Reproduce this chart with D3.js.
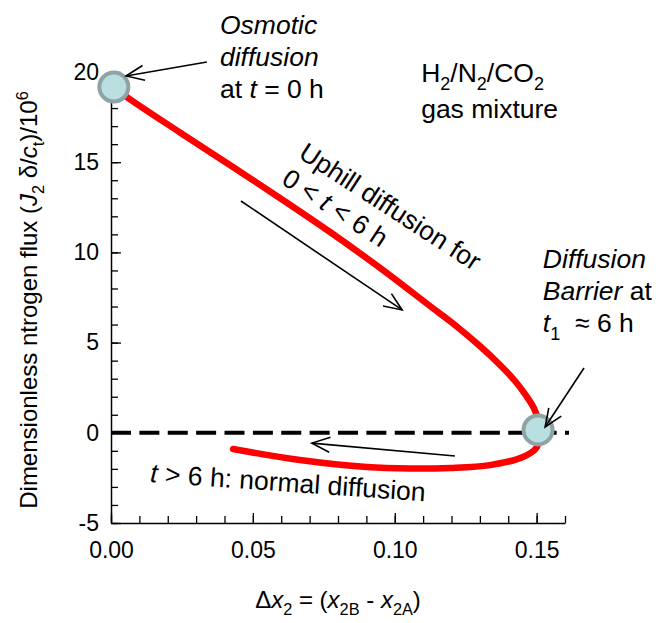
<!DOCTYPE html>
<html>
<head>
<meta charset="utf-8">
<script src="https://cdn.jsdelivr.net/npm/d3@7"></script>
<style>
    body { margin: 0; background: #fff; }
    text { font-family: "Liberation Sans", Arial, sans-serif; fill: #000; }
</style>
</head>
<body>
<div id="chart"></div>
<script>
// upper branch: 0 < t < 6 h (uphill), then t > 6 h (normal)
const fluxX = [0.001, 0.0056, 0.0243, 0.0419, 0.0595, 0.0772, 0.0948, 0.1124, 0.1212, 0.1300, 0.1371, 0.1424, 0.1466, 0.1490, 0.1505, 0.1508,
    0.1501, 0.1452, 0.1336, 0.1195, 0.1054, 0.0902, 0.0666, 0.043];
const fluxY = [19.17, 18.61, 16.65, 14.84, 13.02, 11.13, 9.14, 7.03, 5.98, 4.81, 3.76, 2.87, 1.99, 1.38, 0.72, 0.16,
    -0.79, -1.34, -1.79, -1.95, -1.98, -1.90, -1.51, -0.90];

// the two marked states
const markerX = [0.001, 0.1505];
const markerY = [19.17, 0.16];

const xTicks = [0, 0.05, 0.10, 0.15];
const xTickLabels = ["0.00", "0.05", "0.10", "0.15"];
const yTicks = [-5, 0, 5, 10, 15, 20];
const yTickLabels = ["-5", "0", "5", "10", "15", "20"];

let margin = { top: 72, right: 94, bottom: 100, left: 111 },
    width = 659 - margin.left - margin.right,
    height = 623 - margin.top - margin.bottom;

var x = d3.scaleLinear().domain([0, 0.16]).range([0, width]);
var y = d3.scaleLinear().domain([-5, 20]).range([height, 0]);

var svg = d3.select("#chart").append("svg")
    .attr("width", 659)
    .attr("height", 623);

var defs = svg.append("defs");
defs.append("marker")
    .attr("id", "open")
    .attr("markerUnits", "userSpaceOnUse")
    .attr("viewBox", "-20 -10 22 20")
    .attr("refX", 0).attr("refY", 0)
    .attr("markerWidth", 22).attr("markerHeight", 20)
    .attr("orient", "auto")
    .append("path")
    .attr("d", "M-18,-7.5L0,0L-18,7.5")
    .attr("fill", "none")
    .attr("stroke", "#000")
    .attr("stroke-width", 1.6);

var chart = svg.append("g")
    .attr("transform", "translate(" + margin.left + "," + margin.top + ")");

// minor ticks first, then the labelled ones
chart.append("g")
    .attr("transform", "translate(0," + height + ")")
    .call(d3.axisBottom(x).ticks(16).tickSize(-7).tickSizeOuter(0).tickFormat(""))
    .call(g => g.select(".domain").remove());
chart.append("g")
    .call(d3.axisLeft(y).ticks(25).tickSize(-7).tickSizeOuter(0).tickFormat(""))
    .call(g => g.select(".domain").remove());

var xAxis = chart.append("g")
    .attr("transform", "translate(0," + height + ")")
    .call(d3.axisBottom(x).tickValues(xTicks).tickSize(-10).tickSizeOuter(0).tickPadding(19)
        .tickFormat((d, i) => xTickLabels[i]));
var yAxis = chart.append("g")
    .call(d3.axisLeft(y).tickValues(yTicks).tickSize(-10).tickSizeOuter(0).tickPadding(12)
        .tickFormat((d, i) => yTickLabels[i]));

chart.selectAll(".domain").attr("stroke-width", 1.5);
chart.selectAll(".tick line").attr("stroke-width", 1.3);
chart.selectAll(".tick text")
    .style("font-family", "'Liberation Sans', Arial, sans-serif")
    .style("font-size", "23px");

// zero line
chart.append("line")
    .attr("x1", x(0)).attr("x2", x(0.16) + 4)
    .attr("y1", y(0)).attr("y2", y(0))
    .attr("stroke", "#000")
    .attr("stroke-width", 4)
    .attr("stroke-dasharray", "20," + (width / 16 - 20));

var pts = fluxX.map((d, i) => [d, fluxY[i]]);
var line = d3.line()
    .x(d => x(d[0]))
    .y(d => y(d[1]))
    .curve(d3.curveCatmullRom.alpha(0.5));

chart.append("path")
    .datum(pts)
    .attr("d", line)
    .attr("fill", "none")
    .attr("stroke", "#ff0000")
    .attr("stroke-width", 6.5)
    .attr("stroke-linecap", "round");

chart.selectAll(".state")
    .data(markerX)
    .enter().append("circle")
    .attr("class", "state")
    .attr("cx", d => x(d))
    .attr("cy", (d, i) => y(markerY[i]))
    .attr("r", 14.5)
    .attr("fill", "#b9dfe1")
    .attr("stroke", "#8fa3a4")
    .attr("stroke-width", 4);

// arrows (data units)
var arrows = [
    [0.0338, 20.55, 0.0053, 19.78],
    [0.0458, 12.85, 0.1026, 6.81],
    [0.1667, 3.59, 0.1530, 0.32],
    [0.1212, -1.29, 0.0708, -0.57]
];
chart.selectAll(".arrow")
    .data(arrows)
    .enter().append("line")
    .attr("class", "arrow")
    .attr("x1", d => x(d[0])).attr("y1", d => y(d[1]))
    .attr("x2", d => x(d[2])).attr("y2", d => y(d[3]))
    .attr("stroke", "#000")
    .attr("stroke-width", 1.6)
    .attr("marker-end", "url(#open)");

// text with sub/superscripts and italics
function rich(g, parts, size) {
    var t = g.append("text").style("font-size", size + "px");
    var shift = 0;
    parts.forEach(p => {
        var s = t.append("tspan").text(p.t);
        var want = p.sub ? size * 0.3 : (p.sup ? -size * 0.38 : 0);
        if (want !== shift) s.attr("dy", want - shift);
        shift = want;
        if (p.sub || p.sup) s.style("font-size", (size * 0.68) + "px");
        if (p.i) s.style("font-style", "italic");
    });
    return t;
}

function block(x0, y0, lines, size, step, angle) {
    var g = chart.append("g")
        .attr("transform", "translate(" + x(x0) + "," + y(y0) + ") rotate(" + (angle || 0) + ")");
    lines.forEach((l, i) => {
        rich(g, l, size).attr("y", i * step);
    });
}

var fs = 26.5;

block(0.0384, 22.1, [
    [{ t: "Osmotic", i: true }],
    [{ t: "diffusion", i: true }],
    [{ t: "at " }, { t: "t", i: true }, { t: " = 0 h" }]
], fs, 32);

block(0.1093, 19.45, [
    [{ t: "H" }, { t: "2", sub: true }, { t: "/N" }, { t: "2", sub: true }, { t: "/CO" }, { t: "2", sub: true }],
    [{ t: "gas mixture" }]
], fs, 36);

block(0.1522, 9.14, [
    [{ t: "Diffusion", i: true }],
    [{ t: "Barrier", i: true }, { t: " at" }],
    [{ t: "t", i: true }, { t: "1", sub: true }, { t: "\u00a0 \u2248 6 h" }]
], fs, 32);

block(0.0656, 15.29, [
    [{ t: "Uphill diffusion for" }],
    [{ t: "0 < " }, { t: "t", i: true }, { t: " < 6 h" }]
], fs, 31, 33);

block(0.0137, -2.73, [
    [{ t: "t", i: true }, { t: " > 6 h: normal diffusion" }]
], fs, 32, 4);

// axis titles
var yt = svg.append("g").attr("transform", "translate(37,300) rotate(-90)");
rich(yt, [
    { t: "Dimensionless ntrogen flux (" }, { t: "J", i: true }, { t: "2", sub: true },
    { t: " \u03b4/" }, { t: "c", i: true }, { t: "t", sub: true }, { t: ")/10" }, { t: "6", sup: true }
], 24).attr("text-anchor", "middle");

var xt = svg.append("g").attr("transform", "translate(338,608)");
rich(xt, [
    { t: "\u0394" }, { t: "x", i: true }, { t: "2", sub: true }, { t: " = (" },
    { t: "x", i: true }, { t: "2B", sub: true }, { t: " - " }, { t: "x", i: true }, { t: "2A", sub: true }, { t: ")" }
], 24).attr("text-anchor", "middle");
</script>
</body>
</html>
